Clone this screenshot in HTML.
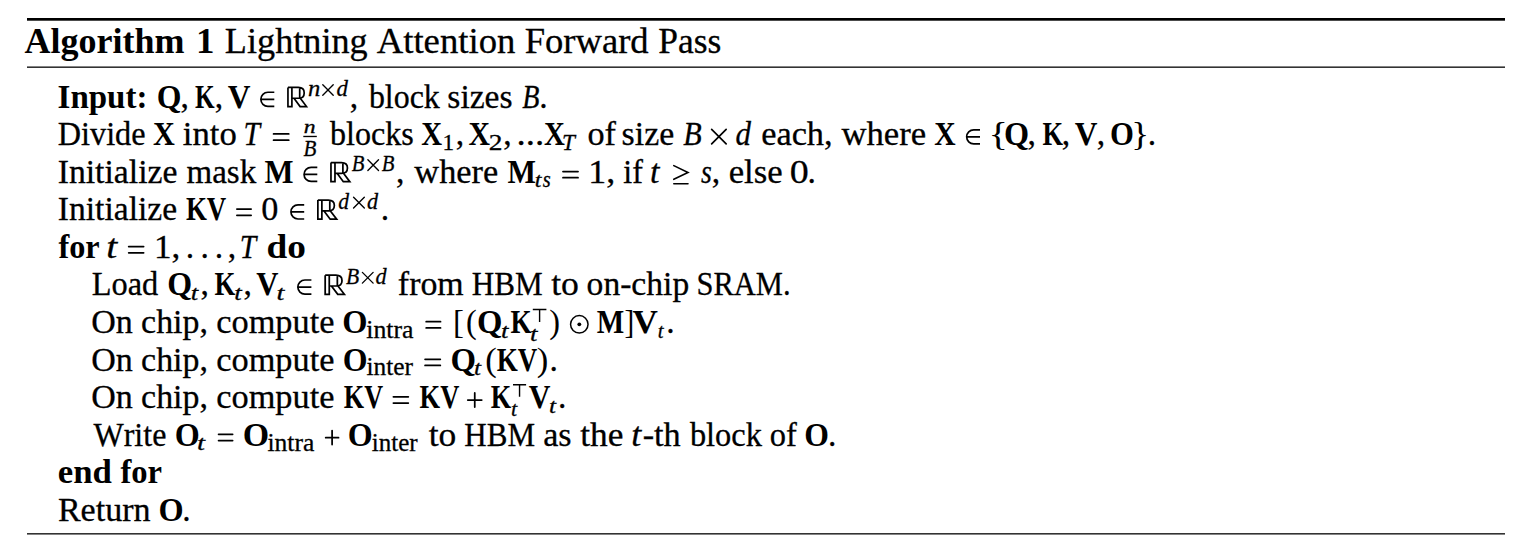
<!DOCTYPE html>
<html><head><meta charset="utf-8"><title>Algorithm 1 Lightning Attention Forward Pass</title>
<style>
html,body{margin:0;padding:0;background:#fff;}
body{width:1540px;height:560px;overflow:hidden;}
svg{display:block;}
text{font-family:"Liberation Serif", serif;fill:#000;font-kerning:none;}
</style></head>
<body>
<svg width="1540" height="560" viewBox="0 0 1540 560">
<rect x="27" y="18" width="1478" height="2.7" fill="#000"/>
<rect x="27" y="66.4" width="1478" height="1.6" fill="#333"/>
<rect x="27" y="533" width="1478" height="1.6" fill="#333"/>
<text transform="translate(24.55,52.50) scale(1.0146,1.0000)" font-size="35.5" font-weight="bold">Algorithm</text>
<text transform="translate(196.04,52.50) scale(1.0406,1.0000)" font-size="35.5" font-weight="bold">1</text>
<text transform="translate(224.86,52.50) scale(1.0201,1.0000)" font-size="35.5" stroke="#000" stroke-width="0.3">Lightning</text>
<text transform="translate(376.74,52.50) scale(1.0337,1.0000)" font-size="35.5" stroke="#000" stroke-width="0.3">Attention</text>
<text transform="translate(524.65,52.50) scale(1.0309,1.0000)" font-size="35.5" stroke="#000" stroke-width="0.3">Forward</text>
<text transform="translate(658.18,52.50) scale(0.9996,1.0000)" font-size="35.5" stroke="#000" stroke-width="0.3">Pass</text>
<text transform="translate(57.59,107.70) scale(0.9849,1.0000)" font-size="33.5" font-weight="bold">Input:</text>
<text transform="translate(156.65,107.70) scale(0.9499,1.0000)" font-size="33.5" font-weight="bold">Q</text>
<text transform="translate(180.52,107.70) scale(1.0000,1.0000)" font-size="33.5" stroke="#000" stroke-width="0.3">,</text>
<text transform="translate(195.07,107.70) scale(0.7533,1.0000)" font-size="33.5" font-weight="bold">K</text>
<text transform="translate(214.72,107.70) scale(1.0000,1.0000)" font-size="33.5" stroke="#000" stroke-width="0.3">,</text>
<text transform="translate(227.65,107.70) scale(0.9386,1.0000)" font-size="33.5" font-weight="bold">V</text>
<path d="M274.30,92.25 H267.90 A7.05,7.05 0 0 0 267.90,106.35 H274.30 M260.85,99.30 H274.30" fill="none" stroke="#000" stroke-width="1.7"/>
<g transform="translate(287.10,86.60) scale(1.0000,1.0048)"><path d="M0.85,0.85 H11.2 C15.0,0.85 17.1,2.9 17.1,6.25 C17.1,9.6 15.0,11.6 11.2,11.6 H4.8 M0.85,0.85 V19.85 H4.8 V0.85 M12.6,0.9 V11.5 M6.9,11.6 L13.0,19.85 H19.4 L13.2,11.6 M0.0,19.85 H5.6" fill="none" stroke="#000" stroke-width="1.7"/></g>
<text transform="translate(308.02,96.00) scale(1.0248,1.0000)" font-size="24" font-style="italic" stroke="#000" stroke-width="0.3">n</text>
<path d="M322.78,84.78 L333.22,95.22 M333.22,84.78 L322.78,95.22" fill="none" stroke="#000" stroke-width="1.35" stroke-linecap="round"/>
<text transform="translate(336.41,96.00) scale(0.9531,1.0000)" font-size="24" font-style="italic" stroke="#000" stroke-width="0.3">d</text>
<text transform="translate(349.82,107.70) scale(1.0000,1.0000)" font-size="33.5" stroke="#000" stroke-width="0.3">,</text>
<text transform="translate(368.90,107.70) scale(0.9526,1.0000)" font-size="33.5" stroke="#000" stroke-width="0.3">block</text>
<text transform="translate(447.32,107.70) scale(1.0026,1.0000)" font-size="33.5" stroke="#000" stroke-width="0.3">sizes</text>
<text transform="translate(522.14,107.70) scale(0.8395,1.0000)" font-size="33.5" font-style="italic" stroke="#000" stroke-width="0.3">B</text>
<text transform="translate(539.29,107.70) scale(1.0000,1.0000)" font-size="33.5" stroke="#000" stroke-width="0.3">.</text>
<text transform="translate(57.77,145.25) scale(0.9635,1.0000)" font-size="33.5" stroke="#000" stroke-width="0.3">Divide</text>
<text transform="translate(153.04,145.25) scale(0.9017,1.0000)" font-size="33.5" font-weight="bold">X</text>
<text transform="translate(182.87,145.25) scale(1.0352,1.0000)" font-size="33.5" stroke="#000" stroke-width="0.3">into</text>
<text transform="translate(243.56,145.25) scale(0.8850,1.0000)" font-size="33.5" font-style="italic" stroke="#000" stroke-width="0.3">T</text>
<path d="M273.57,133.95 H288.73 M273.57,140.15 H288.73" fill="none" stroke="#000" stroke-width="1.75" stroke-linecap="round"/>
<text transform="translate(303.66,132.50) scale(1.2128,1.0000)" font-size="19.5" font-style="italic" stroke="#000" stroke-width="0.3">n</text>
<rect x="303.3" y="135.8" width="13.5" height="1.35" fill="#000"/>
<text transform="translate(303.40,155.70) scale(0.9152,1.0000)" font-size="23" font-style="italic" stroke="#000" stroke-width="0.3">B</text>
<text transform="translate(330.00,145.25) scale(0.9588,1.0000)" font-size="33.5" stroke="#000" stroke-width="0.3">blocks</text>
<text transform="translate(421.26,145.25) scale(0.8629,1.0000)" font-size="33.5" font-weight="bold">X</text>
<text transform="translate(442.45,149.85) scale(0.9705,1.0000)" font-size="24" stroke="#000" stroke-width="0.3">1</text>
<text transform="translate(455.72,145.25) scale(1.0000,1.0000)" font-size="33.5" stroke="#000" stroke-width="0.3">,</text>
<text transform="translate(468.45,145.25) scale(0.8888,1.0000)" font-size="33.5" font-weight="bold">X</text>
<text transform="translate(488.79,149.85) scale(1.1433,1.0000)" font-size="24" stroke="#000" stroke-width="0.3">2</text>
<text transform="translate(503.22,145.25) scale(1.0000,1.0000)" font-size="33.5" stroke="#000" stroke-width="0.3">,</text>
<text transform="translate(516.57,145.25) scale(1.1010,1.0000)" font-size="33.5" stroke="#000" stroke-width="0.3">...</text>
<text transform="translate(543.96,145.25) scale(0.8629,1.0000)" font-size="33.5" font-weight="bold">X</text>
<text transform="translate(562.08,149.85) scale(0.9700,1.0000)" font-size="24" font-style="italic" stroke="#000" stroke-width="0.3">T</text>
<text transform="translate(587.50,145.25) scale(1.0214,1.0000)" font-size="33.5" stroke="#000" stroke-width="0.3">of</text>
<text transform="translate(621.61,145.25) scale(1.0092,1.0000)" font-size="33.5" stroke="#000" stroke-width="0.3">size</text>
<text transform="translate(683.22,145.25) scale(0.9013,1.0000)" font-size="33.5" font-style="italic" stroke="#000" stroke-width="0.3">B</text>
<path d="M711.65,129.40 L726.15,143.90 M726.15,129.40 L711.65,143.90" fill="none" stroke="#000" stroke-width="1.7" stroke-linecap="round"/>
<text transform="translate(735.46,145.25) scale(0.9230,1.0000)" font-size="33.5" font-style="italic" stroke="#000" stroke-width="0.3">d</text>
<text transform="translate(761.16,145.25) scale(1.0254,1.0000)" font-size="33.5" stroke="#000" stroke-width="0.3">each,</text>
<text transform="translate(841.47,145.25) scale(1.0354,1.0000)" font-size="33.5" stroke="#000" stroke-width="0.3">where</text>
<text transform="translate(934.35,145.25) scale(0.8844,1.0000)" font-size="33.5" font-weight="bold">X</text>
<path d="M980.00,129.80 H973.70 A7.05,7.05 0 0 0 973.70,143.90 H980.00 M966.65,136.85 H980.00" fill="none" stroke="#000" stroke-width="1.7"/>
<text transform="translate(988.62,145.25) scale(1.2107,1.0000)" font-size="33.5">{</text>
<text transform="translate(1003.92,145.25) scale(0.9630,1.0000)" font-size="33.5" font-weight="bold">Q</text>
<text transform="translate(1027.42,145.25) scale(1.0000,1.0000)" font-size="33.5" stroke="#000" stroke-width="0.3">,</text>
<text transform="translate(1042.55,145.25) scale(0.7890,1.0000)" font-size="33.5" font-weight="bold">K</text>
<text transform="translate(1061.72,145.25) scale(1.0000,1.0000)" font-size="33.5" stroke="#000" stroke-width="0.3">,</text>
<text transform="translate(1074.65,145.25) scale(0.9386,1.0000)" font-size="33.5" font-weight="bold">V</text>
<text transform="translate(1096.72,145.25) scale(1.0000,1.0000)" font-size="33.5" stroke="#000" stroke-width="0.3">,</text>
<text transform="translate(1110.00,145.25) scale(0.9172,1.0000)" font-size="33.5" font-weight="bold">O</text>
<text transform="translate(1131.22,145.25) scale(1.1106,1.0000)" font-size="33.5">}</text>
<text transform="translate(1147.79,145.25) scale(1.0000,1.0000)" font-size="33.5" stroke="#000" stroke-width="0.3">.</text>
<text transform="translate(57.68,182.80) scale(1.0062,1.0000)" font-size="33.5" stroke="#000" stroke-width="0.3">Initialize</text>
<text transform="translate(186.51,182.80) scale(0.9856,1.0000)" font-size="33.5" stroke="#000" stroke-width="0.3">mask</text>
<text transform="translate(264.57,182.80) scale(0.9175,1.0000)" font-size="33.5" font-weight="bold">M</text>
<path d="M317.30,167.35 H311.10 A7.05,7.05 0 0 0 311.10,181.45 H317.30 M304.05,174.40 H317.30" fill="none" stroke="#000" stroke-width="1.7"/>
<g transform="translate(330.10,161.70) scale(1.0150,1.0048)"><path d="M0.85,0.85 H11.2 C15.0,0.85 17.1,2.9 17.1,6.25 C17.1,9.6 15.0,11.6 11.2,11.6 H4.8 M0.85,0.85 V19.85 H4.8 V0.85 M12.6,0.9 V11.5 M6.9,11.6 L13.0,19.85 H19.4 L13.2,11.6 M0.0,19.85 H5.6" fill="none" stroke="#000" stroke-width="1.7"/></g>
<text transform="translate(351.81,171.10) scale(0.8627,1.0000)" font-size="24" font-style="italic" stroke="#000" stroke-width="0.3">B</text>
<path d="M367.88,159.78 L378.52,170.43 M378.52,159.78 L367.88,170.43" fill="none" stroke="#000" stroke-width="1.35" stroke-linecap="round"/>
<text transform="translate(381.81,171.10) scale(0.8627,1.0000)" font-size="24" font-style="italic" stroke="#000" stroke-width="0.3">B</text>
<text transform="translate(395.92,182.80) scale(1.0000,1.0000)" font-size="33.5" stroke="#000" stroke-width="0.3">,</text>
<text transform="translate(414.37,182.80) scale(1.0243,1.0000)" font-size="33.5" stroke="#000" stroke-width="0.3">where</text>
<text transform="translate(507.38,182.80) scale(0.9009,1.0000)" font-size="33.5" font-weight="bold">M</text>
<text transform="translate(534.64,187.40) scale(1.1174,1.0000)" font-size="21.5" font-style="italic" stroke="#000" stroke-width="0.3">t</text>
<text transform="translate(542.65,187.40) scale(0.8533,1.0000)" font-size="24" font-style="italic" stroke="#000" stroke-width="0.3">s</text>
<path d="M562.98,171.50 H578.02 M562.98,177.70 H578.02" fill="none" stroke="#000" stroke-width="1.75" stroke-linecap="round"/>
<text transform="translate(588.25,182.80) scale(1.0712,1.0000)" font-size="33.5" stroke="#000" stroke-width="0.3">1,</text>
<text transform="translate(623.33,182.80) scale(0.9565,1.0000)" font-size="33.5" stroke="#000" stroke-width="0.3">if</text>
<text transform="translate(649.91,182.80) scale(1.0111,1.0000)" font-size="33.5" font-style="italic" stroke="#000" stroke-width="0.3">t</text>
<path d="M673.80,165.60 L688.00,172.50 L673.80,179.30 M673.80,183.80 H688.00" fill="none" stroke="#000" stroke-width="1.6" stroke-linecap="round" stroke-linejoin="miter"/>
<text transform="translate(701.06,182.80) scale(0.8266,1.0000)" font-size="33.5" font-style="italic" stroke="#000" stroke-width="0.3">s</text>
<text transform="translate(711.72,182.80) scale(1.0000,1.0000)" font-size="33.5" stroke="#000" stroke-width="0.3">,</text>
<text transform="translate(728.64,182.80) scale(1.0360,1.0000)" font-size="33.5" stroke="#000" stroke-width="0.3">else</text>
<text transform="translate(789.75,182.80) scale(1.1339,1.0000)" font-size="33.5" stroke="#000" stroke-width="0.3">0</text>
<text transform="translate(807.59,182.80) scale(1.0000,1.0000)" font-size="33.5" stroke="#000" stroke-width="0.3">.</text>
<text transform="translate(57.79,220.35) scale(1.0028,1.0000)" font-size="33.5" stroke="#000" stroke-width="0.3">Initialize</text>
<text transform="translate(185.94,220.35) scale(0.8032,1.0000)" font-size="33.5" font-weight="bold">KV</text>
<path d="M236.88,209.05 H251.12 M236.88,215.25 H251.12" fill="none" stroke="#000" stroke-width="1.75" stroke-linecap="round"/>
<text transform="translate(261.20,220.35) scale(1.0213,1.0000)" font-size="33.5" stroke="#000" stroke-width="0.3">0</text>
<path d="M304.20,204.90 H298.00 A7.05,7.05 0 0 0 298.00,219.00 H304.20 M290.95,211.95 H304.20" fill="none" stroke="#000" stroke-width="1.7"/>
<g transform="translate(317.00,199.25) scale(1.0150,1.0048)"><path d="M0.85,0.85 H11.2 C15.0,0.85 17.1,2.9 17.1,6.25 C17.1,9.6 15.0,11.6 11.2,11.6 H4.8 M0.85,0.85 V19.85 H4.8 V0.85 M12.6,0.9 V11.5 M6.9,11.6 L13.0,19.85 H19.4 L13.2,11.6 M0.0,19.85 H5.6" fill="none" stroke="#000" stroke-width="1.7"/></g>
<text transform="translate(338.15,208.65) scale(0.9001,1.0000)" font-size="24" font-style="italic" stroke="#000" stroke-width="0.3">d</text>
<path d="M353.57,197.28 L364.32,208.03 M364.32,197.28 L353.57,208.03" fill="none" stroke="#000" stroke-width="1.35" stroke-linecap="round"/>
<text transform="translate(367.03,208.65) scale(0.9266,1.0000)" font-size="24" font-style="italic" stroke="#000" stroke-width="0.3">d</text>
<text transform="translate(380.69,220.35) scale(1.0000,1.0000)" font-size="33.5" stroke="#000" stroke-width="0.3">.</text>
<text transform="translate(58.46,257.90) scale(0.9639,1.0000)" font-size="33.5" font-weight="bold">for</text>
<text transform="translate(106.27,257.90) scale(1.1757,1.0000)" font-size="33.5" font-style="italic" stroke="#000" stroke-width="0.3">t</text>
<path d="M128.68,246.60 H143.62 M128.68,252.80 H143.62" fill="none" stroke="#000" stroke-width="1.75" stroke-linecap="round"/>
<text transform="translate(153.92,257.90) scale(1.0463,1.0000)" font-size="33.5" stroke="#000" stroke-width="0.3">1,</text>
<text transform="translate(185.79,257.90) scale(1.0000,1.0000)" font-size="33.5" stroke="#000" stroke-width="0.3">.</text>
<text transform="translate(200.49,257.90) scale(1.0000,1.0000)" font-size="33.5" stroke="#000" stroke-width="0.3">.</text>
<text transform="translate(214.79,257.90) scale(1.0000,1.0000)" font-size="33.5" stroke="#000" stroke-width="0.3">.</text>
<text transform="translate(227.72,257.90) scale(1.0000,1.0000)" font-size="33.5" stroke="#000" stroke-width="0.3">,</text>
<text transform="translate(239.87,257.90) scale(0.8796,1.0000)" font-size="33.5" font-style="italic" stroke="#000" stroke-width="0.3">T</text>
<text transform="translate(266.49,257.90) scale(1.1146,1.0000)" font-size="33.5" font-weight="bold">do</text>
<text transform="translate(91.67,295.45) scale(0.9665,1.0000)" font-size="33.5" stroke="#000" stroke-width="0.3">Load</text>
<text transform="translate(167.34,295.45) scale(0.9543,1.0000)" font-size="33.5" font-weight="bold">Q</text>
<text transform="translate(190.82,300.05) scale(1.2457,1.0000)" font-size="21.5" font-style="italic" stroke="#000" stroke-width="0.3">t</text>
<text transform="translate(200.52,295.45) scale(1.0000,1.0000)" font-size="33.5" stroke="#000" stroke-width="0.3">,</text>
<text transform="translate(214.44,295.45) scale(0.8009,1.0000)" font-size="33.5" font-weight="bold">K</text>
<text transform="translate(234.32,300.05) scale(1.2457,1.0000)" font-size="21.5" font-style="italic" stroke="#000" stroke-width="0.3">t</text>
<text transform="translate(243.52,295.45) scale(1.0000,1.0000)" font-size="33.5" stroke="#000" stroke-width="0.3">,</text>
<text transform="translate(256.25,295.45) scale(0.9172,1.0000)" font-size="33.5" font-weight="bold">V</text>
<text transform="translate(276.45,300.05) scale(1.3189,1.0000)" font-size="21.5" font-style="italic" stroke="#000" stroke-width="0.3">t</text>
<path d="M311.40,280.00 H304.90 A7.05,7.05 0 0 0 304.90,294.10 H311.40 M297.85,287.05 H311.40" fill="none" stroke="#000" stroke-width="1.7"/>
<g transform="translate(324.30,274.35) scale(1.0350,1.0048)"><path d="M0.85,0.85 H11.2 C15.0,0.85 17.1,2.9 17.1,6.25 C17.1,9.6 15.0,11.6 11.2,11.6 H4.8 M0.85,0.85 V19.85 H4.8 V0.85 M12.6,0.9 V11.5 M6.9,11.6 L13.0,19.85 H19.4 L13.2,11.6 M0.0,19.85 H5.6" fill="none" stroke="#000" stroke-width="1.7"/></g>
<text transform="translate(345.90,283.75) scale(0.8986,1.0000)" font-size="24" font-style="italic" stroke="#000" stroke-width="0.3">B</text>
<path d="M362.38,272.38 L373.12,283.12 M373.12,272.38 L362.38,283.12" fill="none" stroke="#000" stroke-width="1.35" stroke-linecap="round"/>
<text transform="translate(375.43,283.75) scale(0.9266,1.0000)" font-size="24" font-style="italic" stroke="#000" stroke-width="0.3">d</text>
<text transform="translate(397.86,295.45) scale(1.0116,1.0000)" font-size="33.5" stroke="#000" stroke-width="0.3">from</text>
<text transform="translate(471.80,295.45) scale(0.9290,1.0000)" font-size="33.5" stroke="#000" stroke-width="0.3">HBM</text>
<text transform="translate(551.15,295.45) scale(1.0632,1.0000)" font-size="33.5" stroke="#000" stroke-width="0.3">to</text>
<text transform="translate(586.62,295.45) scale(1.0025,1.0000)" font-size="33.5" stroke="#000" stroke-width="0.3">on-chip</text>
<text transform="translate(696.56,295.45) scale(0.9102,1.0000)" font-size="33.5" stroke="#000" stroke-width="0.3">SRAM.</text>
<text transform="translate(91.20,333.00) scale(1.0163,1.0000)" font-size="33.5" stroke="#000" stroke-width="0.3">On</text>
<text transform="translate(141.11,333.00) scale(1.0117,1.0000)" font-size="33.5" stroke="#000" stroke-width="0.3">chip,</text>
<text transform="translate(216.29,333.00) scale(1.0247,1.0000)" font-size="33.5" stroke="#000" stroke-width="0.3">compute</text>
<text transform="translate(342.31,333.00) scale(0.9699,1.0000)" font-size="33.5" font-weight="bold">O</text>
<text transform="translate(366.26,337.90) scale(1.0121,1.0000)" font-size="25.5" stroke="#000" stroke-width="0.3">intra</text>
<path d="M426.18,321.70 H440.52 M426.18,327.90 H440.52" fill="none" stroke="#000" stroke-width="1.75" stroke-linecap="round"/>
<text transform="translate(452.97,333.00) scale(0.9787,1.0000)" font-size="33.5">[</text>
<text transform="translate(466.08,333.00) scale(0.9647,1.0000)" font-size="33.5">(</text>
<text transform="translate(477.10,333.00) scale(0.9761,1.0000)" font-size="33.5" font-weight="bold">Q</text>
<text transform="translate(500.92,337.60) scale(1.2457,1.0000)" font-size="21.5" font-style="italic" stroke="#000" stroke-width="0.3">t</text>
<text transform="translate(510.44,333.00) scale(0.8088,1.0000)" font-size="33.5" font-weight="bold">K</text>
<text transform="translate(530.12,341.00) scale(1.2457,1.0000)" font-size="21.5" font-style="italic" stroke="#000" stroke-width="0.3">t</text>
<path d="M532.80,309.50 H546.40 M539.60,309.50 V322.00" fill="none" stroke="#000" stroke-width="1.4"/>
<text transform="translate(549.26,333.00) scale(0.9647,1.0000)" font-size="33.5">)</text>
<circle cx="579.30" cy="324.35" r="8.75" fill="none" stroke="#000" stroke-width="1.5"/><circle cx="579.30" cy="324.35" r="1.9" fill="#000"/>
<text transform="translate(596.80,333.00) scale(0.8676,1.0000)" font-size="33.5" font-weight="bold">M</text>
<text transform="translate(624.45,333.00) scale(0.8714,1.0000)" font-size="33.5">]</text>
<text transform="translate(632.61,333.00) scale(1.0495,1.0000)" font-size="33.5" font-weight="bold">V</text>
<text transform="translate(657.78,337.60) scale(0.9709,1.0000)" font-size="21.5" font-style="italic" stroke="#000" stroke-width="0.3">t</text>
<text transform="translate(666.19,333.00) scale(1.0000,1.0000)" font-size="33.5" stroke="#000" stroke-width="0.3">.</text>
<text transform="translate(91.20,370.55) scale(1.0163,1.0000)" font-size="33.5" stroke="#000" stroke-width="0.3">On</text>
<text transform="translate(141.11,370.55) scale(1.0117,1.0000)" font-size="33.5" stroke="#000" stroke-width="0.3">chip,</text>
<text transform="translate(216.29,370.55) scale(1.0247,1.0000)" font-size="33.5" stroke="#000" stroke-width="0.3">compute</text>
<text transform="translate(342.74,370.55) scale(0.9523,1.0000)" font-size="33.5" font-weight="bold">O</text>
<text transform="translate(366.47,375.45) scale(0.9963,1.0000)" font-size="25.5" stroke="#000" stroke-width="0.3">inter</text>
<path d="M425.07,359.25 H440.32 M425.07,365.45 H440.32" fill="none" stroke="#000" stroke-width="1.75" stroke-linecap="round"/>
<text transform="translate(450.40,370.55) scale(0.9804,1.0000)" font-size="33.5" font-weight="bold">Q</text>
<text transform="translate(473.89,375.15) scale(1.1724,1.0000)" font-size="21.5" font-style="italic" stroke="#000" stroke-width="0.3">t</text>
<text transform="translate(485.18,370.55) scale(1.0344,1.0000)" font-size="33.5">(</text>
<text transform="translate(496.74,370.55) scale(0.8073,1.0000)" font-size="33.5" font-weight="bold">KV</text>
<text transform="translate(536.68,370.55) scale(1.0344,1.0000)" font-size="33.5">)</text>
<text transform="translate(549.39,370.55) scale(1.0000,1.0000)" font-size="33.5" stroke="#000" stroke-width="0.3">.</text>
<text transform="translate(91.20,408.10) scale(1.0163,1.0000)" font-size="33.5" stroke="#000" stroke-width="0.3">On</text>
<text transform="translate(141.11,408.10) scale(1.0117,1.0000)" font-size="33.5" stroke="#000" stroke-width="0.3">chip,</text>
<text transform="translate(216.29,408.10) scale(1.0247,1.0000)" font-size="33.5" stroke="#000" stroke-width="0.3">compute</text>
<text transform="translate(343.85,408.10) scale(0.7809,1.0000)" font-size="33.5" font-weight="bold">KV</text>
<path d="M393.38,396.80 H408.32 M393.38,403.00 H408.32" fill="none" stroke="#000" stroke-width="1.75" stroke-linecap="round"/>
<text transform="translate(419.55,408.10) scale(0.7911,1.0000)" font-size="33.5" font-weight="bold">KV</text>
<path d="M467.77,400.10 H481.73 M474.75,392.97 V407.02" fill="none" stroke="#000" stroke-width="1.75" stroke-linecap="round"/>
<text transform="translate(490.85,408.10) scale(0.7850,1.0000)" font-size="33.5" font-weight="bold">K</text>
<text transform="translate(510.93,416.10) scale(1.0258,1.0000)" font-size="21.5" font-style="italic" stroke="#000" stroke-width="0.3">t</text>
<path d="M513.00,384.70 H526.10 M519.55,384.70 V396.80" fill="none" stroke="#000" stroke-width="1.4"/>
<text transform="translate(528.76,408.10) scale(0.8959,1.0000)" font-size="33.5" font-weight="bold">V</text>
<text transform="translate(548.99,412.70) scale(1.1724,1.0000)" font-size="21.5" font-style="italic" stroke="#000" stroke-width="0.3">t</text>
<text transform="translate(558.09,408.10) scale(1.0000,1.0000)" font-size="33.5" stroke="#000" stroke-width="0.3">.</text>
<text transform="translate(93.47,445.65) scale(0.9565,1.0000)" font-size="33.5" stroke="#000" stroke-width="0.3">Write</text>
<text transform="translate(174.73,445.65) scale(0.9611,1.0000)" font-size="33.5" font-weight="bold">O</text>
<text transform="translate(196.94,450.25) scale(1.3372,1.0000)" font-size="21.5" font-style="italic" stroke="#000" stroke-width="0.3">t</text>
<path d="M218.57,434.35 H232.62 M218.57,440.55 H232.62" fill="none" stroke="#000" stroke-width="1.75" stroke-linecap="round"/>
<text transform="translate(242.84,445.65) scale(1.0138,1.0000)" font-size="33.5" font-weight="bold">O</text>
<text transform="translate(267.46,450.55) scale(1.0012,1.0000)" font-size="25.5" stroke="#000" stroke-width="0.3">intra</text>
<path d="M325.68,437.65 H338.52 M332.10,430.52 V444.57" fill="none" stroke="#000" stroke-width="1.75" stroke-linecap="round"/>
<text transform="translate(347.64,445.65) scale(0.9567,1.0000)" font-size="33.5" font-weight="bold">O</text>
<text transform="translate(371.77,450.55) scale(0.9811,1.0000)" font-size="25.5" stroke="#000" stroke-width="0.3">inter</text>
<text transform="translate(428.75,445.65) scale(1.0591,1.0000)" font-size="33.5" stroke="#000" stroke-width="0.3">to</text>
<text transform="translate(464.31,445.65) scale(0.9264,1.0000)" font-size="33.5" stroke="#000" stroke-width="0.3">HBM</text>
<text transform="translate(543.20,445.65) scale(1.0150,1.0000)" font-size="33.5" stroke="#000" stroke-width="0.3">as</text>
<text transform="translate(580.15,445.65) scale(1.0548,1.0000)" font-size="33.5" stroke="#000" stroke-width="0.3">the</text>
<text transform="translate(631.13,445.65) scale(1.0699,1.0000)" font-size="33.5" font-style="italic" stroke="#000" stroke-width="0.3">t</text>
<text transform="translate(642.63,445.65) scale(1.0217,1.0000)" font-size="33.5" stroke="#000" stroke-width="0.3">-th</text>
<text transform="translate(689.90,445.65) scale(0.9674,1.0000)" font-size="33.5" stroke="#000" stroke-width="0.3">block</text>
<text transform="translate(769.76,445.65) scale(0.9688,1.0000)" font-size="33.5" stroke="#000" stroke-width="0.3">of</text>
<text transform="translate(804.35,445.65) scale(0.9480,1.0000)" font-size="33.5" font-weight="bold">O</text>
<text transform="translate(828.09,445.65) scale(1.0000,1.0000)" font-size="33.5" stroke="#000" stroke-width="0.3">.</text>
<text transform="translate(57.71,483.20) scale(1.0373,1.0000)" font-size="33.5" font-weight="bold">end</text>
<text transform="translate(120.46,483.20) scale(0.9735,1.0000)" font-size="33.5" font-weight="bold">for</text>
<text transform="translate(57.92,520.75) scale(1.0156,1.0000)" font-size="33.5" stroke="#000" stroke-width="0.3">Return</text>
<text transform="translate(158.42,520.75) scale(0.9655,1.0000)" font-size="33.5" font-weight="bold">O</text>
<text transform="translate(182.29,520.75) scale(1.0000,1.0000)" font-size="33.5" stroke="#000" stroke-width="0.3">.</text>
</svg>
</body></html>
